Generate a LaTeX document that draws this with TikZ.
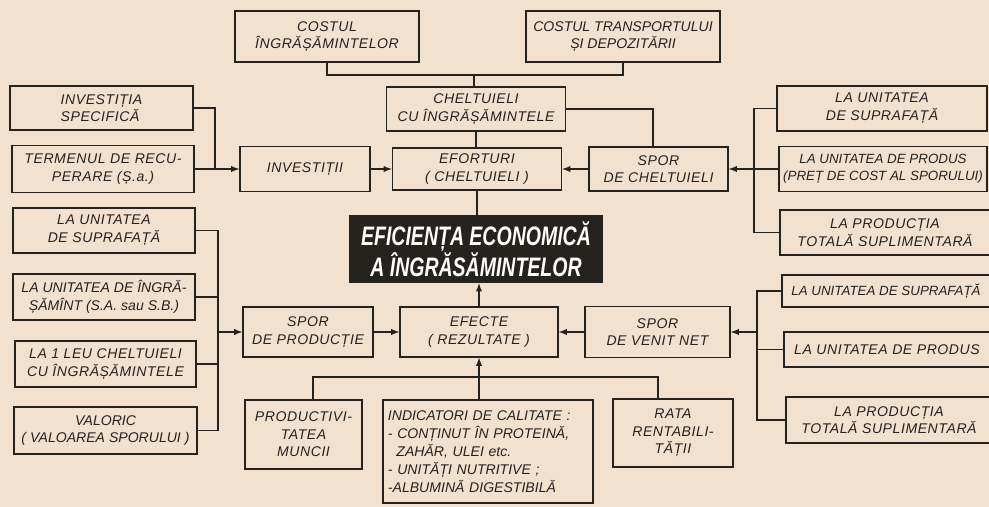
\documentclass[tikz,border=0pt]{standalone}
\usepackage{fontspec}
\setmainfont[LetterSpace=4]{Liberation Sans}
\newfontfamily\tightfont{Liberation Sans}
\newfontfamily\titlefont[FakeStretch=0.73]{Liberation Sans}
\definecolor{paper}{RGB}{243,225,207}
\definecolor{ink}{RGB}{38,34,30}
\tikzset{
  box/.style={draw=ink, line width=1pt, align=center, inner sep=1pt, text=ink,
    font=\itshape\fontsize{10}{12.5}\selectfont},
  tight/.style={font=\tightfont\itshape\fontsize{#1}{12.5}\selectfont},
  titlebox/.style={fill=ink, text=white, align=center, inner sep=1pt,
    font=\titlefont\bfseries\itshape\fontsize{19}{20}\selectfont},
  sz/.style 2 args={minimum width=#1*0.025cm, minimum height=#2*0.025cm},
  link/.style={draw=ink, line width=1pt},
}
\begin{document}
\begin{tikzpicture}[x=0.025cm, y=-0.025cm, >=latex]
\useasboundingbox[fill=paper] (0,0) rectangle (989,507);

\node[box, sz={184}{51}] (costIngr)   at (327,36.5)  {COSTUL\\ÎNGRĂȘĂMINTELOR};
\node[box, sz={194}{51}, tight=10] (costTransp) at (623,36.5) {COSTUL TRANSPORTULUI\\ȘI DEPOZITĂRII};
\node[box, sz={183}{44}, align=left] (investSpec) at (101.5,108) {INVESTIȚIA\\SPECIFICĂ};
\node[box, sz={182}{47}] (termen)     at (103,169)   {TERMENUL DE RECU-\\PERARE (Ș.a.)};
\node[box, sz={130}{45}] (invest)     at (305,169)   {INVESTIȚII};
\node[box, sz={179}{44}] (chelt)      at (476,109)   {CHELTUIELI\\CU ÎNGRĂȘĂMINTELE};
\node[box, sz={169}{42}] (eforturi)   at (477,169)   {EFORTURI\\( CHELTUIELI )};
\node[box, sz={139}{44}] (sporChelt)  at (658.5,169) {SPOR\\DE CHELTUIELI};
\node[box, sz={210}{45}] (rU1)        at (882,108.5) {LA UNITATEA\\DE SUPRAFAȚĂ};
\node[box, sz={208}{45}, tight=9.5] (rP1) at (883,169) {LA UNITATEA DE PRODUS\\(PREȚ DE COST AL SPORULUI)};
\node[box, sz={210}{45}] (rT1)        at (885,232.5) {LA PRODUCȚIA\\TOTALĂ SUPLIMENTARĂ};

\node[titlebox, sz={254}{68}] (title) at (476,249)   {EFICIENȚA ECONOMICĂ\\A ÎNGRĂSĂMINTELOR};

\node[box, sz={182}{45}] (lU)         at (104,230.5) {LA UNITATEA\\DE SUPRAFAȚĂ};
\node[box, sz={182}{46}, tight=10] (lI) at (104,297) {LA UNITATEA DE ÎNGRĂ-\\ȘĂMÎNT (S.A. sau S.B.)};
\node[box, sz={181}{46}] (lL)         at (105.5,364) {LA 1 LEU CHELTUIELI\\CU ÎNGRĂȘĂMINTELE};
\node[box, sz={183}{47}, tight=10] (lV) at (105.5,430.5) {VALORIC\\( VALOAREA SPORULUI )};
\node[box, sz={130}{50}] (sporProd)   at (308,332)   {SPOR\\DE PRODUCȚIE};
\node[box, sz={158}{50}] (efecte)     at (479,332)   {EFECTE\\( REZULTATE )};
\node[box, sz={145}{51}] (sporVenit)  at (657.5,332) {SPOR\\DE VENIT NET};
\node[box, sz={208}{32}, tight=9.5] (rU2) at (886,291) {LA UNITATEA DE SUPRAFAȚĂ};
\node[box, sz={206}{35}] (rP2)        at (887,349.5) {LA UNITATEA DE PRODUS};
\node[box, sz={206}{46}] (rT2)        at (889,420)   {LA PRODUCȚIA\\TOTALĂ SUPLIMENTARĂ};
\node[box, sz={117}{69}] (prodMunc)   at (303.5,434.5) {PRODUCTIVI-\\TATEA\\MUNCII};
\node[box, sz={210}{103}, align=left, text width=5cm,
      font=\tightfont\itshape\fontsize{10}{12.8}\selectfont]
                         (indic)      at (488,451.5) {INDICATORI DE CALITATE :\\- CONȚINUT ÎN PROTEINĂ,\\\hspace*{0.6em}ZAHĂR, ULEI etc.\\- UNITĂȚI NUTRITIVE ;\\-ALBUMINĂ DIGESTIBILĂ};
\node[box, sz={120}{68}] (rata)       at (673,433)   {RATA\\RENTABILI-\\TĂȚII};

\coordinate (jTop)   at (474,75);
\coordinate (jChelt) at (653,0);
\coordinate (busA)   at (215,0);
\coordinate (busB)   at (754,0);
\coordinate (busC)   at (218,0);
\coordinate (busD)   at (757,0);
\coordinate (jProd)  at (313,377);
\coordinate (jRata)  at (658,377);

\draw[link] (costIngr.south) |- (jTop) -| (costTransp.south);
\draw[link] (jTop) -- (jTop |- chelt.north);
\draw[link] (chelt.south) -- (chelt.south |- eforturi.north);
\draw[link] (eforturi.south) -- (eforturi.south |- title.north);
\draw[link] (chelt.east) -| (jChelt |- sporChelt.north);
\draw[link] (investSpec.east) -| (busA |- termen.east);
\draw[link, ->] (termen.east) -- (invest.west);
\draw[link, ->] (invest.east) -- (eforturi.west);
\draw[link, ->] (sporChelt.west) -- (eforturi.east);
\draw[link] (rU1.west) -| (busB |- rT1.west) -- (rT1.west);
\draw[link, ->] (rP1.west) -- (sporChelt.east);

\draw[link] (lU.east) -| (busC |- lV.east) -- (lV.east);
\draw[link] (lI.east) -- (lI.east -| busC);
\draw[link] (lL.east) -- (lL.east -| busC);
\draw[link, ->] (busC |- sporProd.west) -- (sporProd.west);
\draw[link, ->] (sporProd.east) -- (efecte.west);
\draw[link, ->] (sporVenit.west) -- (efecte.east);
\draw[link] (rU2.west) -| (busD |- rT2.west) -- (rT2.west);
\draw[link] (rP2.west) -- (rP2.west -| busD);
\draw[link, ->] (busD |- sporVenit.east) -- (sporVenit.east);
\draw[link, ->] (efecte.north) -- (efecte.north |- title.south);
\draw[link] (jProd |- prodMunc.north) -- (jProd) -- (jRata) -- (jRata |- rata.north);
\draw[link, ->] (efecte.south |- indic.north) -- (efecte.south);
\end{tikzpicture}
\end{document}
